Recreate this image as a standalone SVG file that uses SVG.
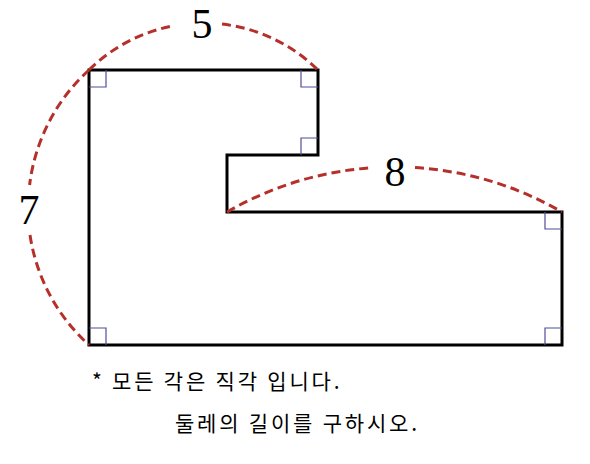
<svg xmlns="http://www.w3.org/2000/svg" width="590" height="464" viewBox="0 0 590 464">
<style>
.shape{fill:none;stroke:#000;stroke-width:3;stroke-linejoin:miter}
.ra{fill:none;stroke:#4f4f95;stroke-width:1.2}
.dim{fill:none;stroke:#b5302b;stroke-width:3;stroke-dasharray:9 5}
.num{font-family:"Liberation Serif",serif;font-size:42px;fill:#000;text-anchor:middle}
.note{font-family:"Noto Sans CJK KR","Liberation Sans",sans-serif;font-size:21px;fill:#000;letter-spacing:2.8px}
</style>
<rect width="590" height="464" fill="#fff"/>
<g id="figure">
<path class="shape" d="M89,70 H318 V155 H227 V212 H562 V345 H89 Z"/>
<path class="ra" d="M89,87 H106 V70 M301,70 V87 H318 M301,155 V138 H318 M545,212 V229 H562 M545,345 V328 H562 M89,328 H106 V345"/>
</g>
<g id="connectors">
<path class="dim" d="M89,70 A163,163 0 0 1 173,25.9 M222,24.1 A163,163 0 0 1 318,70"/>
<path class="dim" d="M89,70 A185.5,185.5 0 0 0 29.6,185 M30,235 A185.5,185.5 0 0 0 89,345"/>
<path class="dim" d="M227,212 A334,334 0 0 1 370,167.9 M415,167.6 A334,334 0 0 1 562,212"/>
</g>
<g id="label-5"><text class="num" x="202" y="38">5</text></g>
<g id="label-7"><text class="num" x="29" y="224">7</text></g>
<g id="label-8"><text class="num" x="395" y="186">8</text></g>
<g id="notes">
<text class="note" x="92" y="389">* 모든 각은 직각 입니다.</text>
<text class="note" x="175" y="431">둘레의 길이를 구하시오.</text>
</g>
</svg>
